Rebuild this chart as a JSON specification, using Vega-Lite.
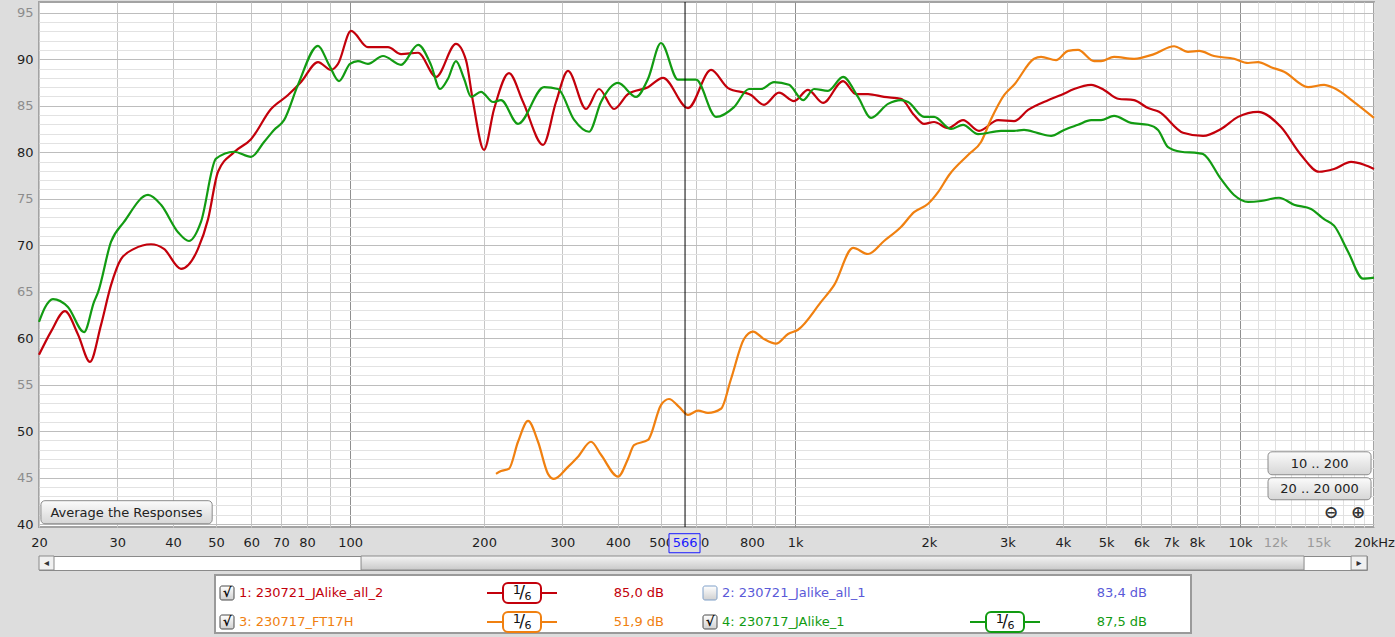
{
  "$schema": "https://vega.github.io/schema/vega-lite/v6.json",
  "background": "#dddddd",
  "padding": {"left": 15, "top": 0, "right": 6, "bottom": 4},
  "config": {"font": "DejaVu Sans", "view": {"stroke": null}},
  "spacing": 0,
  "resolve": {"scale": {"x": "independent", "y": "independent", "color": "independent", "stroke": "independent"}},
  "datasets": {
    "fr": [
      {"trace":"1","freq":20,"spl":58.2},{"trace":"1","freq":21.28,"spl":60.7},{"trace":"1","freq":22.87,"spl":62.9},{"trace":"1","freq":24.47,"spl":60.4},{"trace":"1","freq":26.04,"spl":57.45},{"trace":"1","freq":27.56,"spl":61.4},{"trace":"1","freq":29.03,"spl":65.7},{"trace":"1","freq":30.57,"spl":68.5},{"trace":"1","freq":32.7,"spl":69.6},{"trace":"1","freq":35.71,"spl":70.1},{"trace":"1","freq":38.18,"spl":69.6},{"trace":"1","freq":41.7,"spl":67.45},{"trace":"1","freq":45.53,"spl":69.6},{"trace":"1","freq":47.97,"spl":72.8},{"trace":"1","freq":50.5,"spl":77.9},{"trace":"1","freq":54.86,"spl":80.0},{"trace":"1","freq":59.91,"spl":81.4},{"trace":"1","freq":66.44,"spl":84.65},{"trace":"1","freq":72.56,"spl":86.15},{"trace":"1","freq":77.61,"spl":87.55},{"trace":"1","freq":84.72,"spl":89.7},{"trace":"1","freq":90.62,"spl":88.85},{"trace":"1","freq":93.97,"spl":89.5},{"trace":"1","freq":100.5,"spl":93.05},{"trace":"1","freq":109.7,"spl":91.3},{"trace":"1","freq":121.7,"spl":91.3},{"trace":"1","freq":130.2,"spl":90.55},{"trace":"1","freq":142.2,"spl":90.7},{"trace":"1","freq":156.1,"spl":88.1},{"trace":"1","freq":173.0,"spl":91.65},{"trace":"1","freq":182.2,"spl":89.9},{"trace":"1","freq":189.0,"spl":85.4},{"trace":"1","freq":200.0,"spl":80.25},{"trace":"1","freq":210.7,"spl":84.65},{"trace":"1","freq":227.6,"spl":88.5},{"trace":"1","freq":244.8,"spl":85.4},{"trace":"1","freq":271.5,"spl":80.8},{"trace":"1","freq":290.3,"spl":85.4},{"trace":"1","freq":308.9,"spl":88.75},{"trace":"1","freq":339.1,"spl":84.65},{"trace":"1","freq":362.7,"spl":86.8},{"trace":"1","freq":392.0,"spl":84.65},{"trace":"1","freq":421.3,"spl":86.25},{"trace":"1","freq":467.4,"spl":87.0},{"trace":"1","freq":505.0,"spl":88.0},{"trace":"1","freq":574.8,"spl":84.75},{"trace":"1","freq":647.4,"spl":88.85},{"trace":"1","freq":707.1,"spl":86.9},{"trace":"1","freq":796.2,"spl":86.15},{"trace":"1","freq":851.6,"spl":85.1},{"trace":"1","freq":920.2,"spl":86.4},{"trace":"1","freq":994.6,"spl":85.5},{"trace":"1","freq":1069.6,"spl":86.7},{"trace":"1","freq":1156,"spl":85.3},{"trace":"1","freq":1282,"spl":87.65},{"trace":"1","freq":1371,"spl":86.25},{"trace":"1","freq":1459,"spl":86.25},{"trace":"1","freq":1585,"spl":85.95},{"trace":"1","freq":1730,"spl":85.75},{"trace":"1","freq":1851,"spl":84.0},{"trace":"1","freq":1950,"spl":83.05},{"trace":"1","freq":2053,"spl":83.25},{"trace":"1","freq":2207,"spl":82.6},{"trace":"1","freq":2385,"spl":83.45},{"trace":"1","freq":2591,"spl":82.3},{"trace":"1","freq":2859,"spl":83.45},{"trace":"1","freq":3106,"spl":83.35},{"trace":"1","freq":3339,"spl":84.55},{"trace":"1","freq":3703,"spl":85.6},{"trace":"1","freq":3961,"spl":86.15},{"trace":"1","freq":4236,"spl":86.8},{"trace":"1","freq":4628,"spl":87.25},{"trace":"1","freq":4948,"spl":86.7},{"trace":"1","freq":5319,"spl":85.75},{"trace":"1","freq":5779,"spl":85.6},{"trace":"1","freq":6212,"spl":84.75},{"trace":"1","freq":6576,"spl":84.35},{"trace":"1","freq":7445,"spl":82.1},{"trace":"1","freq":8257,"spl":81.75},{"trace":"1","freq":9065,"spl":82.5},{"trace":"1","freq":9897,"spl":83.8},{"trace":"1","freq":10978,"spl":84.35},{"trace":"1","freq":12360,"spl":82.7},{"trace":"1","freq":13711,"spl":79.7},{"trace":"1","freq":15050,"spl":77.9},{"trace":"1","freq":16265,"spl":78.2},{"trace":"1","freq":17763,"spl":78.95},{"trace":"1","freq":18996,"spl":78.65},{"trace":"1","freq":20000,"spl":78.2},
      {"trace":"3","freq":212.8,"spl":45.4},{"trace":"3","freq":218.4,"spl":45.7},{"trace":"3","freq":227.6,"spl":45.95},{"trace":"3","freq":238.5,"spl":48.85},{"trace":"3","freq":251.2,"spl":51.1},{"trace":"3","freq":264.5,"spl":48.85},{"trace":"3","freq":278.5,"spl":45.4},{"trace":"3","freq":287.2,"spl":44.85},{"trace":"3","freq":308.9,"spl":46.15},{"trace":"3","freq":325.3,"spl":47.25},{"trace":"3","freq":347.9,"spl":48.85},{"trace":"3","freq":366.4,"spl":47.45},{"trace":"3","freq":400.2,"spl":45.1},{"trace":"3","freq":421.3,"spl":47.0},{"trace":"3","freq":434.6,"spl":48.5},{"trace":"3","freq":467.4,"spl":49.05},{"trace":"3","freq":499.7,"spl":52.8},{"trace":"3","freq":520.9,"spl":53.45},{"trace":"3","freq":548.6,"spl":52.6},{"trace":"3","freq":574.8,"spl":51.75},{"trace":"3","freq":605.3,"spl":52.2},{"trace":"3","freq":637.4,"spl":51.95},{"trace":"3","freq":681.7,"spl":52.4},{"trace":"3","freq":718.0,"spl":55.6},{"trace":"3","freq":767.9,"spl":59.9},{"trace":"3","freq":804.5,"spl":60.7},{"trace":"3","freq":851.6,"spl":59.9},{"trace":"3","freq":906.2,"spl":59.4},{"trace":"3","freq":964.4,"spl":60.45},{"trace":"3","freq":1015.6,"spl":60.9},{"trace":"3","freq":1144,"spl":63.9},{"trace":"3","freq":1224,"spl":65.7},{"trace":"3","freq":1350,"spl":69.7},{"trace":"3","freq":1459,"spl":69.05},{"trace":"3","freq":1585,"spl":70.45},{"trace":"3","freq":1730,"spl":71.95},{"trace":"3","freq":1851,"spl":73.55},{"trace":"3","freq":1991,"spl":74.45},{"trace":"3","freq":2096,"spl":75.7},{"trace":"3","freq":2219,"spl":77.55},{"trace":"3","freq":2448,"spl":79.7},{"trace":"3","freq":2618,"spl":81.1},{"trace":"3","freq":2757,"spl":83.55},{"trace":"3","freq":2950,"spl":86.15},{"trace":"3","freq":3106,"spl":87.25},{"trace":"3","freq":3444,"spl":90.05},{"trace":"3","freq":3571,"spl":90.25},{"trace":"3","freq":3859,"spl":89.9},{"trace":"3","freq":4107,"spl":90.9},{"trace":"3","freq":4324,"spl":91.0},{"trace":"3","freq":4698,"spl":89.8},{"trace":"3","freq":4871,"spl":89.8},{"trace":"3","freq":5211,"spl":90.25},{"trace":"3","freq":5779,"spl":90.05},{"trace":"3","freq":6408,"spl":90.55},{"trace":"3","freq":7106,"spl":91.4},{"trace":"3","freq":7641,"spl":90.8},{"trace":"3","freq":8091,"spl":90.9},{"trace":"3","freq":8741,"spl":90.35},{"trace":"3","freq":9694,"spl":90.05},{"trace":"3","freq":10423,"spl":89.6},{"trace":"3","freq":10978,"spl":89.7},{"trace":"3","freq":11738,"spl":89.15},{"trace":"3","freq":12557,"spl":88.65},{"trace":"3","freq":14216,"spl":87.0},{"trace":"3","freq":15446,"spl":87.25},{"trace":"3","freq":16265,"spl":86.9},{"trace":"3","freq":18039,"spl":85.4},{"trace":"3","freq":20000,"spl":83.7},
      {"trace":"4","freq":20,"spl":61.75},{"trace":"4","freq":20.63,"spl":63.3},{"trace":"4","freq":21.5,"spl":64.2},{"trace":"4","freq":23.23,"spl":63.35},{"trace":"4","freq":25.25,"spl":60.65},{"trace":"4","freq":26.59,"spl":63.9},{"trace":"4","freq":27.15,"spl":64.95},{"trace":"4","freq":29.03,"spl":70.35},{"trace":"4","freq":31.05,"spl":72.5},{"trace":"4","freq":35.16,"spl":75.4},{"trace":"4","freq":37.6,"spl":74.35},{"trace":"4","freq":41.06,"spl":71.4},{"trace":"4","freq":43.46,"spl":70.45},{"trace":"4","freq":46.24,"spl":72.5},{"trace":"4","freq":49.98,"spl":79.3},{"trace":"4","freq":54.86,"spl":80.05},{"trace":"4","freq":59.91,"spl":79.5},{"trace":"4","freq":64.08,"spl":81.1},{"trace":"4","freq":67.48,"spl":82.4},{"trace":"4","freq":71.07,"spl":83.45},{"trace":"4","freq":76.38,"spl":87.25},{"trace":"4","freq":84.72,"spl":91.45},{"trace":"4","freq":89.69,"spl":89.4},{"trace":"4","freq":94.45,"spl":87.65},{"trace":"4","freq":99.98,"spl":89.5},{"trace":"4","freq":104.2,"spl":89.8},{"trace":"4","freq":109.7,"spl":89.5},{"trace":"4","freq":118.6,"spl":90.35},{"trace":"4","freq":130.2,"spl":89.4},{"trace":"4","freq":142.2,"spl":91.55},{"trace":"4","freq":152.0,"spl":89.4},{"trace":"4","freq":159.3,"spl":86.8},{"trace":"4","freq":166.0,"spl":87.9},{"trace":"4","freq":173.0,"spl":89.8},{"trace":"4","freq":180.4,"spl":87.9},{"trace":"4","freq":187.1,"spl":85.95},{"trace":"4","freq":196.9,"spl":86.5},{"trace":"4","freq":209.6,"spl":85.4},{"trace":"4","freq":218.4,"spl":85.6},{"trace":"4","freq":238.5,"spl":83.05},{"trace":"4","freq":272.9,"spl":87.0},{"trace":"4","freq":293.3,"spl":86.8},{"trace":"4","freq":318.6,"spl":83.5},{"trace":"4","freq":344.4,"spl":82.2},{"trace":"4","freq":366.4,"spl":85.4},{"trace":"4","freq":400.2,"spl":87.45},{"trace":"4","freq":439.2,"spl":85.95},{"trace":"4","freq":467.4,"spl":87.9},{"trace":"4","freq":499.7,"spl":91.75},{"trace":"4","freq":545.8,"spl":87.8},{"trace":"4","freq":599.1,"spl":87.8},{"trace":"4","freq":664.4,"spl":83.8},{"trace":"4","freq":729.3,"spl":84.85},{"trace":"4","freq":788.0,"spl":86.8},{"trace":"4","freq":838.5,"spl":86.8},{"trace":"4","freq":896.9,"spl":87.55},{"trace":"4","freq":969.4,"spl":87.25},{"trace":"4","freq":1042.7,"spl":85.6},{"trace":"4","freq":1103.4,"spl":86.8},{"trace":"4","freq":1186,"spl":86.6},{"trace":"4","freq":1282,"spl":88.1},{"trace":"4","freq":1385,"spl":85.95},{"trace":"4","freq":1482,"spl":83.7},{"trace":"4","freq":1618,"spl":85.2},{"trace":"4","freq":1730,"spl":85.6},{"trace":"4","freq":1795,"spl":85.4},{"trace":"4","freq":1950,"spl":83.8},{"trace":"4","freq":2053,"spl":83.8},{"trace":"4","freq":2242,"spl":82.5},{"trace":"4","freq":2385,"spl":82.95},{"trace":"4","freq":2578,"spl":81.95},{"trace":"4","freq":2903,"spl":82.3},{"trace":"4","freq":3106,"spl":82.3},{"trace":"4","freq":3270,"spl":82.4},{"trace":"4","freq":3516,"spl":82.05},{"trace":"4","freq":3762,"spl":81.75},{"trace":"4","freq":4023,"spl":82.4},{"trace":"4","freq":4324,"spl":82.95},{"trace":"4","freq":4628,"spl":83.45},{"trace":"4","freq":4871,"spl":83.45},{"trace":"4","freq":5211,"spl":83.9},{"trace":"4","freq":5689,"spl":83.15},{"trace":"4","freq":6212,"spl":82.95},{"trace":"4","freq":6542,"spl":82.4},{"trace":"4","freq":6889,"spl":80.55},{"trace":"4","freq":7369,"spl":80.05},{"trace":"4","freq":8049,"spl":79.9},{"trace":"4","freq":8257,"spl":79.8},{"trace":"4","freq":9065,"spl":77.1},{"trace":"4","freq":9694,"spl":75.4},{"trace":"4","freq":10423,"spl":74.65},{"trace":"4","freq":11150,"spl":74.75},{"trace":"4","freq":12233,"spl":75.1},{"trace":"4","freq":13222,"spl":74.35},{"trace":"4","freq":14440,"spl":73.9},{"trace":"4","freq":15446,"spl":72.8},{"trace":"4","freq":16265,"spl":72.1},{"trace":"4","freq":17489,"spl":69.3},{"trace":"4","freq":18898,"spl":66.4},{"trace":"4","freq":20000,"spl":66.5}
    ],
    "legend": [
      {"id":"1","name":"1: 230721_JAlike_all_2","level":"85,0 dB","col":0,"row":0,"checked":true,"num":"1","den":"6"},
      {"id":"2","name":"2: 230721_Jalike_all_1","level":"83,4 dB","col":1,"row":0,"checked":false,"num":"","den":""},
      {"id":"3","name":"3: 230717_FT17H","level":"51,9 dB","col":0,"row":1,"checked":true,"num":"1","den":"6"},
      {"id":"4","name":"4: 230717_JAlike_1","level":"87,5 dB","col":1,"row":1,"checked":true,"num":"1","den":"6"}
    ]
  },
  "vconcat": [
    {
      "width": 1335,
      "height": 525,
      "view": {"fill": "#ffffff", "stroke": "#a3a3a3", "strokeWidth": 2},
      "layer": [
        {
          "data": {"name": "fr"},
          "mark": {"type": "line", "interpolate": "monotone", "strokeWidth": 2.2, "strokeJoin": "round"},
          "encoding": {
            "x": {
              "field": "freq", "type": "quantitative",
              "scale": {"type": "log", "domain": [20, 20000], "nice": false},
              "axis": {
                "title": null, "domain": false, "ticks": false, "grid": true, "tickCount": 60,
                "values": [20,30,40,50,60,70,80,90,100,200,300,400,500,600,700,800,900,1000,2000,3000,4000,5000,6000,7000,8000,9000,10000,11000,12000,13000,14000,15000,16000,17000,18000,19000,20000],
                "labelExpr": "datum.value == 20000 ? '20kHz' : indexof([20,30,40,50,60,70,80,100,200,300,400,500,600,800], datum.value) >= 0 ? '' + datum.value : indexof([1000,2000,3000,4000,5000,6000,7000,8000,10000,12000,15000], datum.value) >= 0 ? (datum.value / 1000) + 'k' : ''",
                "labelFontSize": 13, "labelPadding": 9, "labelOverlap": false, "labelFlush": false, "labelBound": false,
                "labelColor": {"condition": {"test": "datum.value == 12000 || datum.value == 15000", "value": "#9a9a9a"}, "value": "#1e1e1e"},
                "gridColor": {"condition": [{"test": "datum.value == 100 || datum.value == 1000 || datum.value == 10000", "value": "#8f8f8f"}, {"test": "datum.value > 10000", "value": "#e0e0e0"}], "value": "#c6c6c6"},
                "gridWidth": 1
              }
            },
            "y": {
              "field": "spl", "type": "quantitative",
              "scale": {"domain": [39.68, 96.16], "nice": false, "zero": false},
              "axis": {
                "title": null, "domain": false, "ticks": false, "grid": true, "tickCount": 80,
                "values": [40,41,42,43,44,45,46,47,48,49,50,51,52,53,54,55,56,57,58,59,60,61,62,63,64,65,66,67,68,69,70,71,72,73,74,75,76,77,78,79,80,81,82,83,84,85,86,87,88,89,90,91,92,93,94,95],
                "labelExpr": "datum.value % 5 == 0 ? '' + datum.value : ''",
                "labelFontSize": 13, "labelPadding": 6, "labelOverlap": false, "labelFlush": false, "labelBound": false,
                "labelColor": {"condition": {"test": "datum.value % 10 == 0", "value": "#1e1e1e"}, "value": "#8c8c8c"},
                "gridColor": {"condition": {"test": "datum.value % 5 == 0", "value": "#bdbdbd"}, "value": "#e2e2e2"},
                "gridWidth": 1
              }
            },
            "color": {
              "field": "trace", "type": "nominal",
              "scale": {"domain": ["1","2","3","4"], "range": ["#c3000b","#5a5ad8","#f08010","#129b12"]},
              "legend": null
            }
          }
        },
        {
          "data": {"values": [{}]},
          "mark": {"type": "rule", "color": "#000000", "strokeWidth": 1},
          "encoding": {"x": {"datum": 566}}
        },
        {
          "data": {"values": [{}]},
          "mark": {"type": "rect", "fill": "#dddddd", "stroke": "#1a1aff", "strokeWidth": 1},
          "encoding": {"x": {"datum": 520.9}, "x2": {"datum": 611.6}, "y": {"datum": 38.96}, "y2": {"datum": 36.91}}
        },
        {
          "data": {"values": [{}]},
          "mark": {"type": "text", "text": "566", "fontSize": 13, "color": "#1a1aff", "align": "center", "baseline": "middle"},
          "encoding": {"x": {"datum": 566}, "y": {"datum": 37.93}}
        },
        {
          "data": {"values": [{}]},
          "mark": {"type": "rect", "cornerRadius": 4, "stroke": "#8a8a8a", "strokeWidth": 1,
                   "fill": {"gradient": "linear", "x1": 0, "y1": 0, "x2": 0, "y2": 1, "stops": [{"offset": 0, "color": "#fbfbfb"}, {"offset": 1, "color": "#d6d6d6"}]}},
          "encoding": {"x": {"datum": 20.2}, "x2": {"datum": 49.0}, "y": {"datum": 40.03}, "y2": {"datum": 42.51}}
        },
        {
          "data": {"values": [{}]},
          "mark": {"type": "text", "text": "Average the Responses", "fontSize": 13, "color": "#222222", "align": "center", "baseline": "middle"},
          "encoding": {"x": {"datum": 31.45}, "y": {"datum": 41.21}}
        },
        {
          "data": {"values": [{}]},
          "mark": {"type": "rect", "cornerRadius": 4, "stroke": "#8a8a8a", "strokeWidth": 1,
                   "fill": {"gradient": "linear", "x1": 0, "y1": 0, "x2": 0, "y2": 1, "stops": [{"offset": 0, "color": "#fbfbfb"}, {"offset": 1, "color": "#d6d6d6"}]}},
          "encoding": {"x": {"datum": 11557}, "x2": {"datum": 19697}, "y": {"datum": 47.77}, "y2": {"datum": 45.3}}
        },
        {
          "data": {"values": [{}]},
          "mark": {"type": "text", "text": "10 .. 200", "fontSize": 13, "color": "#222222", "align": "center", "baseline": "middle"},
          "encoding": {"x": {"datum": 15094}, "y": {"datum": 46.49}}
        },
        {
          "data": {"values": [{}]},
          "mark": {"type": "rect", "cornerRadius": 4, "stroke": "#8a8a8a", "strokeWidth": 1,
                   "fill": {"gradient": "linear", "x1": 0, "y1": 0, "x2": 0, "y2": 1, "stops": [{"offset": 0, "color": "#fbfbfb"}, {"offset": 1, "color": "#d6d6d6"}]}},
          "encoding": {"x": {"datum": 11557}, "x2": {"datum": 19697}, "y": {"datum": 44.98}, "y2": {"datum": 42.61}}
        },
        {
          "data": {"values": [{}]},
          "mark": {"type": "text", "text": "20 .. 20 000", "fontSize": 13, "color": "#222222", "align": "center", "baseline": "middle"},
          "encoding": {"x": {"datum": 15094}, "y": {"datum": 43.8}}
        },
        {
          "data": {"values": [{}]},
          "mark": {"type": "text", "text": "⊖", "fontSize": 17, "fontWeight": "bold", "color": "#333333", "align": "center", "baseline": "middle"},
          "encoding": {"x": {"datum": 16014}, "y": {"datum": 41.21}}
        },
        {
          "data": {"values": [{}]},
          "mark": {"type": "text", "text": "⊕", "fontSize": 17, "fontWeight": "bold", "color": "#333333", "align": "center", "baseline": "middle"},
          "encoding": {"x": {"datum": 18415}, "y": {"datum": 41.21}}
        }
      ]
    },
    {
      "width": 1328,
      "height": 14,
      "view": {"fill": "#ffffff", "stroke": "#8a8a8a", "strokeWidth": 1},
      "data": {"values": [{}]},
      "layer": [
        {
          "mark": {"type": "rect", "stroke": "#8a8a8a", "strokeWidth": 1,
                   "fill": {"gradient": "linear", "x1": 0, "y1": 0, "x2": 0, "y2": 1, "stops": [{"offset": 0, "color": "#f4f4f4"}, {"offset": 1, "color": "#c9c9c9"}]}},
          "encoding": {
            "x": {"datum": 0.2425, "type": "quantitative", "scale": {"domain": [0, 1]}, "axis": null},
            "x2": {"datum": 0.9526},
            "y": {"datum": 0, "type": "quantitative", "scale": {"domain": [0, 1]}, "axis": null},
            "y2": {"datum": 1}
          }
        },
        {
          "mark": {"type": "rect", "stroke": "#8a8a8a", "strokeWidth": 1, "fill": "#f0f0f0"},
          "encoding": {"x": {"datum": 0}, "x2": {"datum": 0.0113}, "y": {"datum": 0}, "y2": {"datum": 1}}
        },
        {
          "mark": {"type": "rect", "stroke": "#8a8a8a", "strokeWidth": 1, "fill": "#f0f0f0"},
          "encoding": {"x": {"datum": 0.988}, "x2": {"datum": 1}, "y": {"datum": 0}, "y2": {"datum": 1}}
        },
        {
          "mark": {"type": "text", "text": "◂", "fontSize": 10, "color": "#333333", "align": "center", "baseline": "middle"},
          "encoding": {"x": {"datum": 0.0057}, "y": {"datum": 0.5}}
        },
        {
          "mark": {"type": "text", "text": "▸", "fontSize": 10, "color": "#333333", "align": "center", "baseline": "middle"},
          "encoding": {"x": {"datum": 0.994}, "y": {"datum": 0.5}}
        }
      ]
    },
    {
      "width": 1152,
      "height": 62,
      "data": {"name": "legend"},
      "encoding": {
        "x": {"field": "col", "type": "quantitative", "scale": {"domain": [0, 1], "range": [176, 659]}, "axis": null},
        "y": {"field": "row", "type": "quantitative", "scale": {"domain": [0, 1], "range": [22, 51]}, "axis": null}
      },
      "layer": [
        {
          "mark": {"type": "rect", "fill": "#ffffff", "stroke": "#9a9a9a", "strokeWidth": 2, "xOffset": 0, "x2Offset": 493, "yOffset": -18, "y2Offset": 11},
          "encoding": {
            "x": {"aggregate": "min", "field": "col", "type": "quantitative"},
            "x2": {"aggregate": "max", "field": "col"},
            "y": {"aggregate": "min", "field": "row", "type": "quantitative"},
            "y2": {"aggregate": "max", "field": "row"}
          }
        },
        {
          "mark": {"type": "rect", "xOffset": 5, "x2Offset": 19, "yOffset": -7, "y2Offset": 7, "cornerRadius": 2, "strokeWidth": 1,
                   "fill": {"gradient": "linear", "x1": 0, "y1": 0, "x2": 0, "y2": 1, "stops": [{"offset": 0, "color": "#ffffff"}, {"offset": 1, "color": "#d0d0d0"}]}},
          "encoding": {
            "x2": {"field": "col"},
            "y2": {"field": "row"},
            "stroke": {"condition": {"test": "datum.checked", "value": "#4a4a4a"}, "value": "#7f9fc8"}
          }
        },
        {
          "transform": [{"filter": "datum.checked"}],
          "mark": {"type": "text", "text": "√", "dx": 12, "fontSize": 13, "fontWeight": "bold", "color": "#111111", "align": "center", "baseline": "middle"}
        },
        {
          "mark": {"type": "text", "dx": 24, "fontSize": 13, "align": "left", "baseline": "middle"},
          "encoding": {
            "text": {"field": "name"},
            "color": {"field": "id", "type": "nominal", "scale": {"domain": ["1","2","3","4"], "range": ["#c3000b","#5a5ad8","#f08010","#129b12"]}, "legend": null}
          }
        },
        {
          "transform": [{"filter": "datum.num != ''"}],
          "mark": {"type": "rule", "xOffset": 272, "x2Offset": 342, "strokeWidth": 2},
          "encoding": {
            "x2": {"field": "col"},
            "color": {"field": "id", "type": "nominal", "legend": null}
          }
        },
        {
          "transform": [{"filter": "datum.num != ''"}],
          "mark": {"type": "rect", "xOffset": 288, "x2Offset": 326, "yOffset": -10, "y2Offset": 10, "cornerRadius": 5, "fill": "#ffffff", "strokeWidth": 2},
          "encoding": {
            "x2": {"field": "col"},
            "y2": {"field": "row"},
            "stroke": {"field": "id", "type": "nominal", "scale": {"domain": ["1","2","3","4"], "range": ["#c3000b","#5a5ad8","#f08010","#129b12"]}, "legend": null}
          }
        },
        {
          "transform": [{"filter": "datum.num != ''"}],
          "mark": {"type": "text", "dx": 302, "dy": -3, "fontSize": 13, "color": "#111111", "align": "center", "baseline": "middle"},
          "encoding": {"text": {"field": "num"}}
        },
        {
          "transform": [{"filter": "datum.num != ''"}],
          "mark": {"type": "text", "text": "/", "dx": 307, "dy": 0, "fontSize": 17, "color": "#111111", "align": "center", "baseline": "middle"}
        },
        {
          "transform": [{"filter": "datum.num != ''"}],
          "mark": {"type": "text", "dx": 313, "dy": 4, "fontSize": 11, "color": "#111111", "align": "center", "baseline": "middle"},
          "encoding": {"text": {"field": "den"}}
        },
        {
          "mark": {"type": "text", "dx": 449, "fontSize": 13, "align": "right", "baseline": "middle"},
          "encoding": {
            "text": {"field": "level"},
            "color": {"field": "id", "type": "nominal", "legend": null}
          }
        }
      ]
    }
  ]
}
